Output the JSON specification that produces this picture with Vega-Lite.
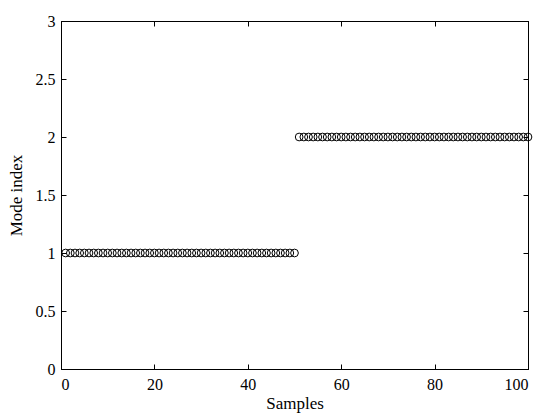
{
  "$schema": "https://vega.github.io/schema/vega-lite/v6.json",
  "autosize": "none",
  "width": 467,
  "height": 348,
  "padding": {"left": 61, "top": 21, "right": 21, "bottom": 48},
  "background": "white",
  "config": {
    "view": {"stroke": "black", "strokeWidth": 1},
    "font": "Liberation Serif",
    "axis": {
      "domainColor": "black",
      "tickColor": "black",
      "labelColor": "black",
      "titleColor": "black",
      "labelFont": "Liberation Serif",
      "titleFont": "Liberation Serif",
      "labelFontSize": 16,
      "titleFontSize": 17,
      "titleFontWeight": "normal",
      "grid": false,
      "tickSize": -5
    }
  },
  "data": {
    "values": [
      {"x": 1, "y": 1}, {"x": 2, "y": 1}, {"x": 3, "y": 1}, {"x": 4, "y": 1}, {"x": 5, "y": 1},
      {"x": 6, "y": 1}, {"x": 7, "y": 1}, {"x": 8, "y": 1}, {"x": 9, "y": 1}, {"x": 10, "y": 1},
      {"x": 11, "y": 1}, {"x": 12, "y": 1}, {"x": 13, "y": 1}, {"x": 14, "y": 1}, {"x": 15, "y": 1},
      {"x": 16, "y": 1}, {"x": 17, "y": 1}, {"x": 18, "y": 1}, {"x": 19, "y": 1}, {"x": 20, "y": 1},
      {"x": 21, "y": 1}, {"x": 22, "y": 1}, {"x": 23, "y": 1}, {"x": 24, "y": 1}, {"x": 25, "y": 1},
      {"x": 26, "y": 1}, {"x": 27, "y": 1}, {"x": 28, "y": 1}, {"x": 29, "y": 1}, {"x": 30, "y": 1},
      {"x": 31, "y": 1}, {"x": 32, "y": 1}, {"x": 33, "y": 1}, {"x": 34, "y": 1}, {"x": 35, "y": 1},
      {"x": 36, "y": 1}, {"x": 37, "y": 1}, {"x": 38, "y": 1}, {"x": 39, "y": 1}, {"x": 40, "y": 1},
      {"x": 41, "y": 1}, {"x": 42, "y": 1}, {"x": 43, "y": 1}, {"x": 44, "y": 1}, {"x": 45, "y": 1},
      {"x": 46, "y": 1}, {"x": 47, "y": 1}, {"x": 48, "y": 1}, {"x": 49, "y": 1}, {"x": 50, "y": 1},
      {"x": 51, "y": 2}, {"x": 52, "y": 2}, {"x": 53, "y": 2}, {"x": 54, "y": 2}, {"x": 55, "y": 2},
      {"x": 56, "y": 2}, {"x": 57, "y": 2}, {"x": 58, "y": 2}, {"x": 59, "y": 2}, {"x": 60, "y": 2},
      {"x": 61, "y": 2}, {"x": 62, "y": 2}, {"x": 63, "y": 2}, {"x": 64, "y": 2}, {"x": 65, "y": 2},
      {"x": 66, "y": 2}, {"x": 67, "y": 2}, {"x": 68, "y": 2}, {"x": 69, "y": 2}, {"x": 70, "y": 2},
      {"x": 71, "y": 2}, {"x": 72, "y": 2}, {"x": 73, "y": 2}, {"x": 74, "y": 2}, {"x": 75, "y": 2},
      {"x": 76, "y": 2}, {"x": 77, "y": 2}, {"x": 78, "y": 2}, {"x": 79, "y": 2}, {"x": 80, "y": 2},
      {"x": 81, "y": 2}, {"x": 82, "y": 2}, {"x": 83, "y": 2}, {"x": 84, "y": 2}, {"x": 85, "y": 2},
      {"x": 86, "y": 2}, {"x": 87, "y": 2}, {"x": 88, "y": 2}, {"x": 89, "y": 2}, {"x": 90, "y": 2},
      {"x": 91, "y": 2}, {"x": 92, "y": 2}, {"x": 93, "y": 2}, {"x": 94, "y": 2}, {"x": 95, "y": 2},
      {"x": 96, "y": 2}, {"x": 97, "y": 2}, {"x": 98, "y": 2}, {"x": 99, "y": 2}, {"x": 100, "y": 2}
    ]
  },
  "layer": [
    {
      "mark": {"type": "point", "shape": "circle", "filled": false, "stroke": "black", "strokeWidth": 1, "size": 60, "opacity": 1, "clip": false},
      "encoding": {
        "x": {
          "field": "x", "type": "quantitative",
          "scale": {"domain": [0, 100], "nice": false, "zero": false},
          "axis": {"title": "Samples", "values": [0, 20, 40, 60, 80, 100], "labelPadding": 12, "titlePadding": 3}
        },
        "y": {
          "field": "y", "type": "quantitative",
          "scale": {"domain": [0, 3], "nice": false},
          "axis": {"title": "Mode index", "values": [0, 0.5, 1, 1.5, 2, 2.5, 3], "format": "~g", "labelPadding": 11, "titlePadding": 10}
        }
      }
    },
    {
      "mark": {"type": "point", "opacity": 0},
      "encoding": {
        "x": {
          "field": "x", "type": "quantitative",
          "scale": {"domain": [0, 100], "nice": false, "zero": false},
          "axis": {"orient": "top", "title": null, "labels": false, "values": [0, 20, 40, 60, 80, 100]}
        },
        "y": {
          "field": "y", "type": "quantitative",
          "scale": {"domain": [0, 3], "nice": false},
          "axis": {"orient": "right", "title": null, "labels": false, "values": [0, 0.5, 1, 1.5, 2, 2.5, 3]}
        }
      }
    }
  ],
  "resolve": {"axis": {"x": "independent", "y": "independent"}}
}
